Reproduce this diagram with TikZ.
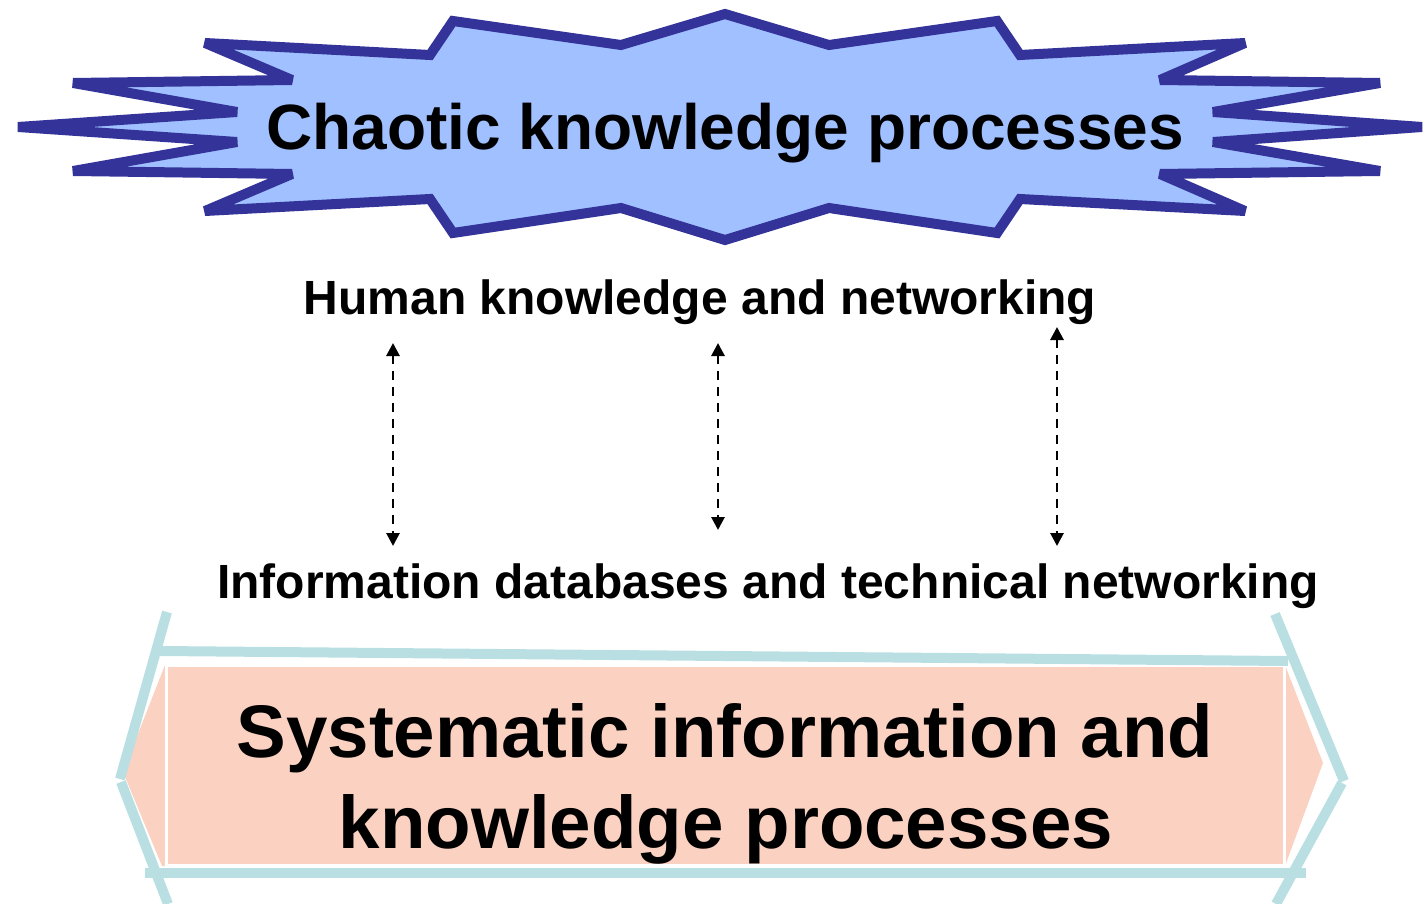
\documentclass[tikz,border=0pt]{standalone}
\usepackage{fontspec}
\setmainfont{Liberation Sans}
\usetikzlibrary{arrows.meta}
\definecolor{starfill}{RGB}{160,192,255}
\definecolor{starline}{RGB}{51,51,153}
\definecolor{pinkfill}{RGB}{251,209,193}
\definecolor{tealline}{RGB}{185,223,226}
\tikzset{
  star/.style={draw=starline, fill=starfill, line width=10pt, line join=miter, miter limit=4},
  tealbar/.style={draw=tealline, line width=10pt, line cap=butt},
  txt/.style={inner sep=0pt, anchor=base, font=\bfseries},
  linkarrow/.style={draw=black, line width=2.8pt, dash pattern=on 9pt off 7pt,
     {Triangle[length=13pt,width=13pt]}-{Triangle[length=13pt,width=13pt]}}
}
\begin{document}
\begin{tikzpicture}[x=1pt,y=-1pt]
\useasboundingbox (0,0) rectangle (1428,904);
% star
\draw[star] (453,21) -- (621,45) -- (725,14) -- (829,45) -- (997,21) -- (1020,55)
  -- (1245,43) -- (1160,80) -- (1380,83) -- (1213,112) -- (1422,127) -- (1213,142)
  -- (1380,171) -- (1160,174) -- (1245,211) -- (1020,199) -- (997,233) -- (829,208)
  -- (725,240) -- (621,208) -- (453,233) -- (430,199) -- (205,211) -- (292,174)
  -- (73,171) -- (237,142) -- (18,127) -- (237,112) -- (73,83) -- (292,80)
  -- (205,43) -- (430,55) -- cycle;
\node[txt, font=\bfseries\fontsize{64}{77}\selectfont] (chaos) at (725,150) {Chaotic knowledge processes};
% middle texts
\node[txt, font=\bfseries\fontsize{48}{58}\selectfont] (human) at (700,315) {Human knowledge and networking};
\node[txt, font=\bfseries\fontsize{48}{58}\selectfont] (info) at (768,598) {Information databases and technical networking};
% arrows
\coordinate (l1) at (393,343); \coordinate (l2) at (393,546);
\coordinate (m1) at (718,343); \coordinate (m2) at (718,530);
\coordinate (r1) at (1057,327); \coordinate (r2) at (1057,546);
\draw[linkarrow] (l1) -- (l2);
\draw[linkarrow] (m1) -- (m2);
\draw[linkarrow] (r1) -- (r2);
% bottom shape
\fill[pinkfill] (123,772) -- (165,665) -- (1285,665) -- (1323,763) -- (1285,866) -- (162,866) -- cycle;
\draw[white, line width=3pt] (166,665) rectangle (1284,865);
\draw[tealbar] (160,651) -- (1288,661);
\draw[tealbar] (145,873) -- (1306,873);
\draw[tealbar] (167,612) -- (120,779);
\draw[tealbar] (121,782) -- (168,904);
\draw[tealbar] (1275,614) -- (1344,781);
\draw[tealbar] (1342,783) -- (1276,904);
\node[txt, font=\bfseries\fontsize{74.5}{90}\selectfont] (sys1) at (725,757) {Systematic information and};
\node[txt, font=\bfseries\fontsize{74.5}{90}\selectfont] (sys2) at (726,848) {knowledge processes};
\end{tikzpicture}
\end{document}
